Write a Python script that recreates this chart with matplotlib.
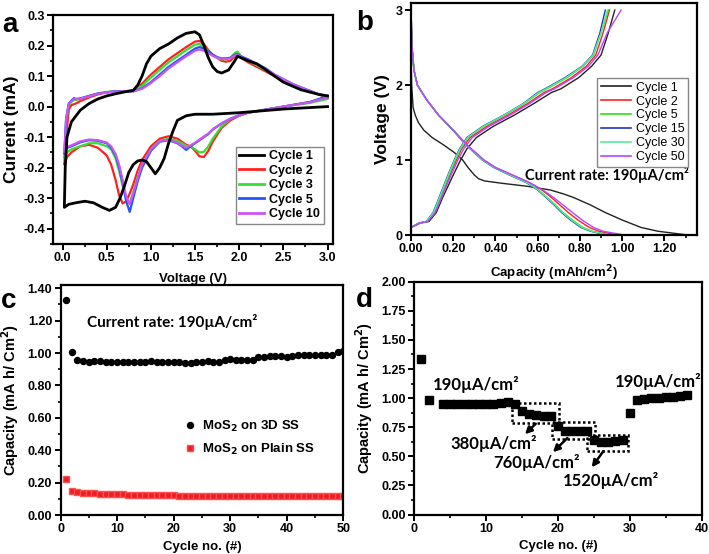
import numpy as np
import matplotlib
matplotlib.use("Agg")
import matplotlib.pyplot as plt
import matplotlib.ticker as tck
from matplotlib.patches import Rectangle
from matplotlib.lines import Line2D

plt.rcParams['font.family'] = ['Liberation Sans', 'DejaVu Sans']
plt.rcParams['font.weight'] = 'bold'
plt.rcParams['axes.labelweight'] = 'bold'
plt.rcParams['axes.unicode_minus'] = False
plt.rcParams['mathtext.default'] = 'bf'

# ---------------- panel a : cyclic voltammetry ----------------
cv1_v = [3.0, 2.5, 2.0, 1.7, 1.5, 1.4, 1.3, 1.25, 1.2, 1.15, 1.1, 1.05, 1.0, 0.95, 0.9,
         0.85, 0.8, 0.75, 0.7, 0.65, 0.6, 0.53, 0.45, 0.35, 0.25, 0.15, 0.07, 0.02,
         0.02, 0.03, 0.05, 0.1, 0.2, 0.3, 0.4, 0.5, 0.6, 0.7, 0.8, 0.85, 0.9, 0.95,
         1.0, 1.1, 1.2, 1.3, 1.4, 1.5, 1.55, 1.6, 1.65, 1.7, 1.75, 1.8, 1.88, 1.95,
         1.98, 2.02, 2.1, 2.2, 2.28, 2.35, 2.5, 2.7, 2.9, 3.0]
cv1_i = [0.0, -0.008, -0.02, -0.025, -0.025, -0.03, -0.045, -0.08, -0.12, -0.17, -0.2,
         -0.22, -0.2, -0.18, -0.175, -0.178, -0.19, -0.215, -0.26, -0.3, -0.33, -0.34,
         -0.33, -0.315, -0.31, -0.315, -0.32, -0.33,
         -0.33, -0.2, -0.1, -0.05, -0.012, 0.01, 0.025, 0.035, 0.042, 0.048, 0.053,
         0.07, 0.1, 0.14, 0.165, 0.19, 0.205, 0.225, 0.24, 0.245, 0.235, 0.2, 0.16,
         0.13, 0.115, 0.11, 0.12, 0.15, 0.165, 0.16, 0.15, 0.14, 0.125, 0.11, 0.08,
         0.055, 0.04, 0.035]

cath_v = [3.0, 2.8, 2.5, 2.3, 2.1, 2.0, 1.9, 1.8, 1.7, 1.65, 1.6, 1.55, 1.5, 1.45, 1.4,
          1.35, 1.3, 1.2, 1.1, 1.0, 0.9, 0.85, 0.8, 0.76, 0.72, 0.68, 0.64, 0.6, 0.55,
          0.5, 0.4, 0.3, 0.2, 0.1, 0.05, 0.02]
cath_c2 = [0.03, 0.015, 0.0, -0.01, -0.02, -0.03, -0.045, -0.07, -0.115, -0.145, -0.165,
           -0.163, -0.145, -0.13, -0.125, -0.115, -0.105, -0.097, -0.105, -0.13, -0.175,
           -0.21, -0.255, -0.285, -0.31, -0.317, -0.29, -0.24, -0.19, -0.16, -0.135,
           -0.125, -0.13, -0.15, -0.165, -0.19]
cath_c3 = [0.025, 0.012, 0.0, -0.01, -0.02, -0.03, -0.04, -0.065, -0.105, -0.13, -0.148,
           -0.15, -0.14, -0.13, -0.128, -0.12, -0.112, -0.105, -0.112, -0.14, -0.19,
           -0.23, -0.28, -0.318, -0.3, -0.26, -0.21, -0.17, -0.14, -0.13, -0.12, -0.12,
           -0.13, -0.14, -0.15, -0.165]
cath_c5 = [0.035, 0.015, 0.0, -0.01, -0.02, -0.028, -0.04, -0.055, -0.075, -0.09, -0.1,
           -0.11, -0.12, -0.13, -0.142, -0.13, -0.12, -0.11, -0.115, -0.145, -0.2,
           -0.245, -0.3, -0.345, -0.31, -0.25, -0.2, -0.16, -0.135, -0.12, -0.112,
           -0.11, -0.117, -0.13, -0.135, -0.15]
cath_c10 = [0.03, 0.014, 0.0, -0.01, -0.02, -0.028, -0.04, -0.055, -0.075, -0.088, -0.098,
            -0.108, -0.118, -0.127, -0.135, -0.127, -0.118, -0.108, -0.113, -0.14, -0.19,
            -0.235, -0.285, -0.32, -0.295, -0.24, -0.19, -0.155, -0.13, -0.118, -0.11,
            -0.108, -0.114, -0.127, -0.133, -0.148]

anod_v = [0.02, 0.04, 0.07, 0.1, 0.13, 0.15, 0.2, 0.3, 0.4, 0.5, 0.6, 0.7, 0.8, 0.9, 1.0,
          1.1, 1.2, 1.3, 1.4, 1.5, 1.55, 1.6, 1.65, 1.7, 1.75, 1.8, 1.85, 1.9, 1.95, 1.98,
          2.02, 2.1, 2.2, 2.3, 2.4, 2.5, 2.6, 2.7, 2.8, 2.9, 3.0]
anod_c2 = [-0.19, -0.1, -0.01, 0.005, 0.008, 0.01, 0.018, 0.03, 0.04, 0.047, 0.05, 0.05,
           0.053, 0.075, 0.105, 0.13, 0.155, 0.175, 0.195, 0.213, 0.215, 0.205, 0.185,
           0.17, 0.16, 0.15, 0.147, 0.15, 0.165, 0.17, 0.16, 0.145, 0.13, 0.115, 0.1,
           0.085, 0.07, 0.06, 0.05, 0.04, 0.03]
anod_c3 = [-0.17, -0.05, 0.005, 0.015, 0.022, 0.022, 0.025, 0.035, 0.043, 0.048, 0.05,
           0.05, 0.052, 0.068, 0.095, 0.12, 0.145, 0.165, 0.185, 0.203, 0.205, 0.195,
           0.18, 0.168, 0.16, 0.155, 0.155, 0.16, 0.175, 0.18, 0.165, 0.15, 0.135, 0.12,
           0.1, 0.087, 0.073, 0.062, 0.05, 0.04, 0.03]
anod_c5 = [-0.155, -0.04, 0.01, 0.02, 0.028, 0.025, 0.027, 0.035, 0.043, 0.047, 0.05,
           0.05, 0.05, 0.06, 0.08, 0.105, 0.13, 0.15, 0.17, 0.19, 0.195, 0.19, 0.18,
           0.17, 0.162, 0.158, 0.158, 0.16, 0.17, 0.172, 0.165, 0.155, 0.14, 0.125,
           0.105, 0.09, 0.075, 0.063, 0.052, 0.04, 0.035]
anod_c10 = [-0.15, -0.04, 0.008, 0.018, 0.025, 0.024, 0.026, 0.034, 0.042, 0.046, 0.049,
            0.05, 0.05, 0.058, 0.077, 0.1, 0.125, 0.145, 0.165, 0.183, 0.187, 0.183,
            0.175, 0.166, 0.16, 0.156, 0.156, 0.158, 0.167, 0.17, 0.163, 0.152, 0.138,
            0.123, 0.104, 0.089, 0.074, 0.062, 0.051, 0.04, 0.033]

cv_labels = ['Cycle 1', 'Cycle 2', 'Cycle 3', 'Cycle 5', 'Cycle 10']
cv_colors = ['black', '#ff2020', '#33e033', '#2255ff', '#cc55ee']

# ---------------- panel b : charge / discharge ----------------
dis_v = [3.0, 2.5, 2.2, 2.0, 1.8, 1.6, 1.4, 1.2, 1.0, 0.9, 0.8, 0.7, 0.6, 0.5, 0.4,
         0.3, 0.2, 0.1, 0.05, 0.0]
dis_cap = {
    'Cycle 2': [0.0, 0.005, 0.014, 0.03, 0.075, 0.13, 0.2, 0.265, 0.345, 0.40, 0.48,
                0.56, 0.62, 0.665, 0.705, 0.745, 0.79, 0.845, 0.89, 0.975],
    'Cycle 5': [0.0, 0.005, 0.014, 0.03, 0.075, 0.13, 0.2, 0.262, 0.34, 0.395, 0.47,
                0.55, 0.605, 0.645, 0.685, 0.72, 0.765, 0.815, 0.86, 0.94],
    'Cycle 15': [0.0, 0.005, 0.014, 0.03, 0.075, 0.13, 0.198, 0.26, 0.338, 0.392, 0.467,
                 0.545, 0.6, 0.64, 0.678, 0.713, 0.755, 0.805, 0.85, 0.93],
    'Cycle 30': [0.0, 0.005, 0.014, 0.03, 0.075, 0.13, 0.2, 0.262, 0.34, 0.395, 0.47,
                 0.548, 0.603, 0.643, 0.682, 0.717, 0.76, 0.81, 0.855, 0.935],
    'Cycle 50': [0.0, 0.005, 0.014, 0.03, 0.075, 0.13, 0.2, 0.265, 0.345, 0.40, 0.48,
                 0.56, 0.625, 0.675, 0.72, 0.765, 0.81, 0.865, 0.91, 1.01],
}
dis1_v = [2.4, 2.0, 1.7, 1.6, 1.5, 1.4, 1.3, 1.2, 1.1, 1.0, 0.9, 0.8, 0.75, 0.72, 0.69,
          0.65, 0.6, 0.55, 0.5, 0.4, 0.3, 0.2, 0.1, 0.05, 0.0]
dis1_cap = [0.0, 0.003, 0.01, 0.02, 0.035, 0.06, 0.1, 0.155, 0.205, 0.245, 0.27, 0.3,
            0.32, 0.35, 0.43, 0.55, 0.66, 0.72, 0.77, 0.85, 0.92, 1.0, 1.09, 1.17, 1.31]

chg_v = [0.1, 0.16, 0.18, 0.3, 0.5, 0.8, 1.0, 1.15, 1.3, 1.45, 1.6, 1.75, 1.9, 1.95, 2.1,
         2.25, 2.4, 2.7, 3.0]
chg_cap = {
    'Cycle 1': [0.0, 0.045, 0.085, 0.12, 0.15, 0.2, 0.235, 0.265, 0.31, 0.39, 0.49, 0.58,
                0.665, 0.71, 0.795, 0.855, 0.9, 0.935, 0.965],
    'Cycle 2': [0.0, 0.04, 0.075, 0.11, 0.14, 0.185, 0.215, 0.24, 0.28, 0.36, 0.46, 0.55,
                0.63, 0.67, 0.76, 0.83, 0.875, 0.91, 0.94],
    'Cycle 5': [0.0, 0.04, 0.075, 0.11, 0.138, 0.18, 0.21, 0.235, 0.27, 0.345, 0.445,
                0.535, 0.61, 0.645, 0.74, 0.815, 0.865, 0.9, 0.935],
    'Cycle 15': [0.0, 0.038, 0.072, 0.105, 0.133, 0.175, 0.205, 0.23, 0.265, 0.34, 0.44,
                 0.53, 0.6, 0.635, 0.73, 0.81, 0.86, 0.895, 0.92],
    'Cycle 30': [0.0, 0.039, 0.073, 0.107, 0.135, 0.177, 0.207, 0.232, 0.268, 0.343, 0.442,
                 0.532, 0.605, 0.64, 0.735, 0.812, 0.862, 0.9, 0.93],
    'Cycle 50': [0.0, 0.042, 0.08, 0.115, 0.145, 0.19, 0.222, 0.25, 0.29, 0.37, 0.47,
                 0.56, 0.64, 0.68, 0.77, 0.84, 0.885, 0.93, 0.995],
}
gcd_labels = ['Cycle 1', 'Cycle 2', 'Cycle 5', 'Cycle 15', 'Cycle 30', 'Cycle 50']
gcd_colors = ['#222222', '#ff2020', '#33dd11', '#2233bb', '#55ee99', '#bb44ff']

# ---------------- panel c : cycling ----------------
cyc_c = list(range(1, 51))
cap_3d = [1.325, 1.005, 0.96, 0.953, 0.943, 0.953, 0.95, 0.945, 0.943, 0.943, 0.943,
          0.943, 0.943, 0.942, 0.942, 0.95, 0.945, 0.945, 0.943, 0.942, 0.942, 0.94,
          0.937, 0.943, 0.947, 0.948, 0.945, 0.945, 0.955, 0.965, 0.96, 0.96, 0.958,
          0.96, 0.973, 0.978, 0.98, 0.98, 0.98, 0.975, 0.983, 0.985, 0.985, 0.988,
          0.988, 0.985, 0.985, 0.99, 1.005, 1.015]
cap_plain = [0.225, 0.148, 0.14, 0.137, 0.135, 0.133, 0.131, 0.13, 0.129, 0.127, 0.127,
             0.126, 0.125, 0.124, 0.123, 0.122, 0.122, 0.121, 0.121, 0.121, 0.12, 0.12,
             0.12, 0.12, 0.12, 0.12, 0.12, 0.12, 0.12, 0.12, 0.118, 0.118, 0.118, 0.118,
             0.118, 0.118, 0.118, 0.118, 0.118, 0.118, 0.117, 0.117, 0.117, 0.117, 0.117,
             0.117, 0.115, 0.115, 0.115, 0.115]

# ---------------- panel d : rate capability ----------------
cyc_d = [1, 2] + list(range(4, 39))
cap_rate = [1.335, 0.986, 0.949, 0.946, 0.949, 0.946, 0.949, 0.951, 0.953, 0.953, 0.957,
            0.966, 0.951, 0.889, 0.86, 0.851, 0.843, 0.843, 0.757, 0.714, 0.714, 0.714,
            0.72, 0.64, 0.62, 0.626, 0.631, 0.64, 0.871, 0.986, 0.991, 0.997, 1.003,
            1.009, 1.006, 1.02, 1.023]
rate_boxes = [(13.64, 20.14, 0.786, 0.957), (19.2, 25.2, 0.649, 0.791),
              (24.0, 29.8, 0.543, 0.683)]
rate_arrows = [((16.9, 0.78), (15.4, 0.69)), ((21.3, 0.657), (19.3, 0.535)),
               ((26.3, 0.543), (24.7, 0.405))]
rate_texts = [(2.64, 1.114, '190µA/cm²'), (4.97, 0.609, '380µA/cm²'),
              (11.0, 0.443, '760µA/cm²'), (20.74, 0.294, '1520µA/cm²'),
              (27.93, 1.143, '190µA/cm²')]

note_font = ['Lato', 'DejaVu Sans']

fig = plt.figure(figsize=(7.09, 5.54), dpi=100)
W, H = 709.0, 554.0


def add_ax(l, r, t, b):
    return fig.add_axes([l / W, 1 - b / H, (r - l) / W, (b - t) / H])


def style(ax):
    for s in ax.spines.values():
        s.set_linewidth(1.6)
    ax.tick_params(which='major', direction='out', width=1.4, length=4, labelsize=9, pad=2)
    ax.tick_params(which='minor', direction='out', width=1.2, length=2.5)


# panel a
axa = add_ax(53.3, 333.3, 15, 244)
for lab, col, cv_c, av_c in zip(cv_labels[1:], cv_colors[1:],
                                [cath_c2, cath_c3, cath_c5, cath_c10],
                                [anod_c2, anod_c3, anod_c5, anod_c10]):
    axa.plot(cath_v + anod_v, cv_c + av_c, color=col, lw=1.6)
axa.plot(cv1_v, cv1_i, color=cv_colors[0], lw=2.0)
axa.set_xlim(-0.105, 3.065)
axa.set_ylim(-0.45, 0.3)
axa.xaxis.set_major_locator(tck.MultipleLocator(0.5))
axa.xaxis.set_minor_locator(tck.MultipleLocator(0.25))
axa.yaxis.set_major_locator(tck.MultipleLocator(0.1))
axa.yaxis.set_minor_locator(tck.MultipleLocator(0.05))
axa.xaxis.set_major_formatter(tck.FormatStrFormatter('%.1f'))
axa.yaxis.set_major_formatter(tck.FormatStrFormatter('%.1f'))
style(axa)
axa.set_xlabel('Voltage (V)', fontsize=9.5, labelpad=6)
axa.set_ylabel('Current (mA)', fontsize=12.5, labelpad=3)
handles = [Line2D([], [], color=c, lw=2) for c in cv_colors]
lga = axa.legend(handles, cv_labels, loc='lower right', bbox_to_anchor=(0.967, 0.087),
                 borderaxespad=0, fancybox=False, edgecolor='#888888', fontsize=9,
                 handlelength=2.0, handletextpad=0.4, labelspacing=0.2,
                 borderpad=0.3, framealpha=1)
lga.get_frame().set_linewidth(1.0)

# panel b
axb = add_ax(411, 696.7, 3.3, 235)
axb.plot(dis1_cap, dis1_v, color=gcd_colors[0], lw=1.0)
for lab, col in zip(gcd_labels, gcd_colors):
    if lab in dis_cap:
        axb.plot(dis_cap[lab], dis_v, color=col, lw=1.0)
    axb.plot(chg_cap[lab], chg_v, color=col, lw=1.0)
axb.set_xlim(0, 1.353)
axb.set_ylim(0, 3.09)
axb.xaxis.set_major_locator(tck.MultipleLocator(0.2))
axb.xaxis.set_minor_locator(tck.MultipleLocator(0.1))
axb.yaxis.set_major_locator(tck.MultipleLocator(1))
axb.xaxis.set_major_formatter(tck.FormatStrFormatter('%.2f'))
style(axb)
axb.set_xlabel('Capacity (mAh/cm$^\\mathbf{2}$)', fontsize=9.5, labelpad=6)
axb.set_ylabel('Voltage (V)', fontsize=12.5, labelpad=4)
handles = [Line2D([], [], color=c, lw=1.2) for c in gcd_colors]
lgb = axb.legend(handles, gcd_labels, loc='upper right', bbox_to_anchor=(0.97, 0.678),
                 borderaxespad=0, fancybox=False, edgecolor='#888888',
                 prop={'size': 9, 'weight': 'normal'},
                 handlelength=2.4, handletextpad=0.4, labelspacing=0.15,
                 borderpad=0.3, framealpha=1)
lgb.get_frame().set_linewidth(1.0)
axb.text(0.54, 0.8, 'Current rate: 190µA/cm²', family=note_font, fontsize=10.5,
         fontweight='bold', va='center', ha='left')

# panel c
axc = add_ax(60.5, 343.3, 285, 515)
axc.plot(cyc_c, cap_3d, 'o', color='black', ms=4.3, label='MoS$_\\mathbf{2}$ on 3D SS')
axc.plot(cyc_c, cap_plain, 's', color='#ee1c24', ms=4, mec='#ff5050',
         label='MoS$_\\mathbf{2}$ on Plain SS')
axc.set_xlim(0, 50)
axc.set_ylim(0, 1.42)
axc.xaxis.set_major_locator(tck.MultipleLocator(10))
axc.xaxis.set_minor_locator(tck.MultipleLocator(5))
axc.yaxis.set_major_locator(tck.MultipleLocator(0.2))
axc.yaxis.set_minor_locator(tck.MultipleLocator(0.1))
axc.yaxis.set_major_formatter(tck.FormatStrFormatter('%.2f'))
style(axc)
axc.set_xlabel('Cycle no. (#)', fontsize=9.5, labelpad=4)
axc.set_ylabel('Capacity (mA h/ Cm$^\\mathbf{2}$)', fontsize=10.5, labelpad=5)
axc.legend(loc='upper left', bbox_to_anchor=(0.41, 0.44), frameon=False, fontsize=9.5,
           handletextpad=0.3, labelspacing=0.6, borderaxespad=0, handlelength=1.2)
axc.text(4.7, 1.19, 'Current rate: 190µA/cm²', family=note_font, fontsize=11,
         fontweight='bold', va='center', ha='left')

# panel d
axd = add_ax(414.3, 701.7, 281.7, 514.5)
axd.plot(cyc_d, cap_rate, 's', color='black', ms=5.5)
for x0, x1, y0, y1 in rate_boxes:
    axd.add_patch(Rectangle((x0, y0), x1 - x0, y1 - y0, fill=False, ls=(0, (1, 1)),
                            lw=1.8, ec='black'))
for start, end in rate_arrows:
    axd.annotate('', xy=end, xytext=start,
                 arrowprops=dict(arrowstyle='-|>', color='black', lw=1.8,
                                 mutation_scale=10, shrinkA=0, shrinkB=0))
for x, y, s in rate_texts:
    axd.text(x, y, s, family=note_font, fontsize=12, fontweight='bold',
             va='center', ha='left')
axd.set_xlim(0, 40)
axd.set_ylim(0, 2)
axd.xaxis.set_major_locator(tck.MultipleLocator(10))
axd.xaxis.set_minor_locator(tck.MultipleLocator(5))
axd.yaxis.set_major_locator(tck.MultipleLocator(0.25))
axd.yaxis.set_minor_locator(tck.MultipleLocator(0.125))
axd.yaxis.set_major_formatter(tck.FormatStrFormatter('%.2f'))
style(axd)
axd.set_xlabel('Cycle no. (#)', fontsize=9.5, labelpad=4)
axd.set_ylabel('Capacity (mA h/ Cm$^\\mathbf{2}$)', fontsize=10.5, labelpad=5)

# panel letters
for x, y, s in [(2, 32, 'a'), (356, 30, 'b'), (1, 308, 'c'), (356, 307, 'd')]:
    fig.text(x / W, 1 - y / H, s, fontsize=20, fontweight='bold', va='baseline')

fig.savefig('out.png', dpi=100)
